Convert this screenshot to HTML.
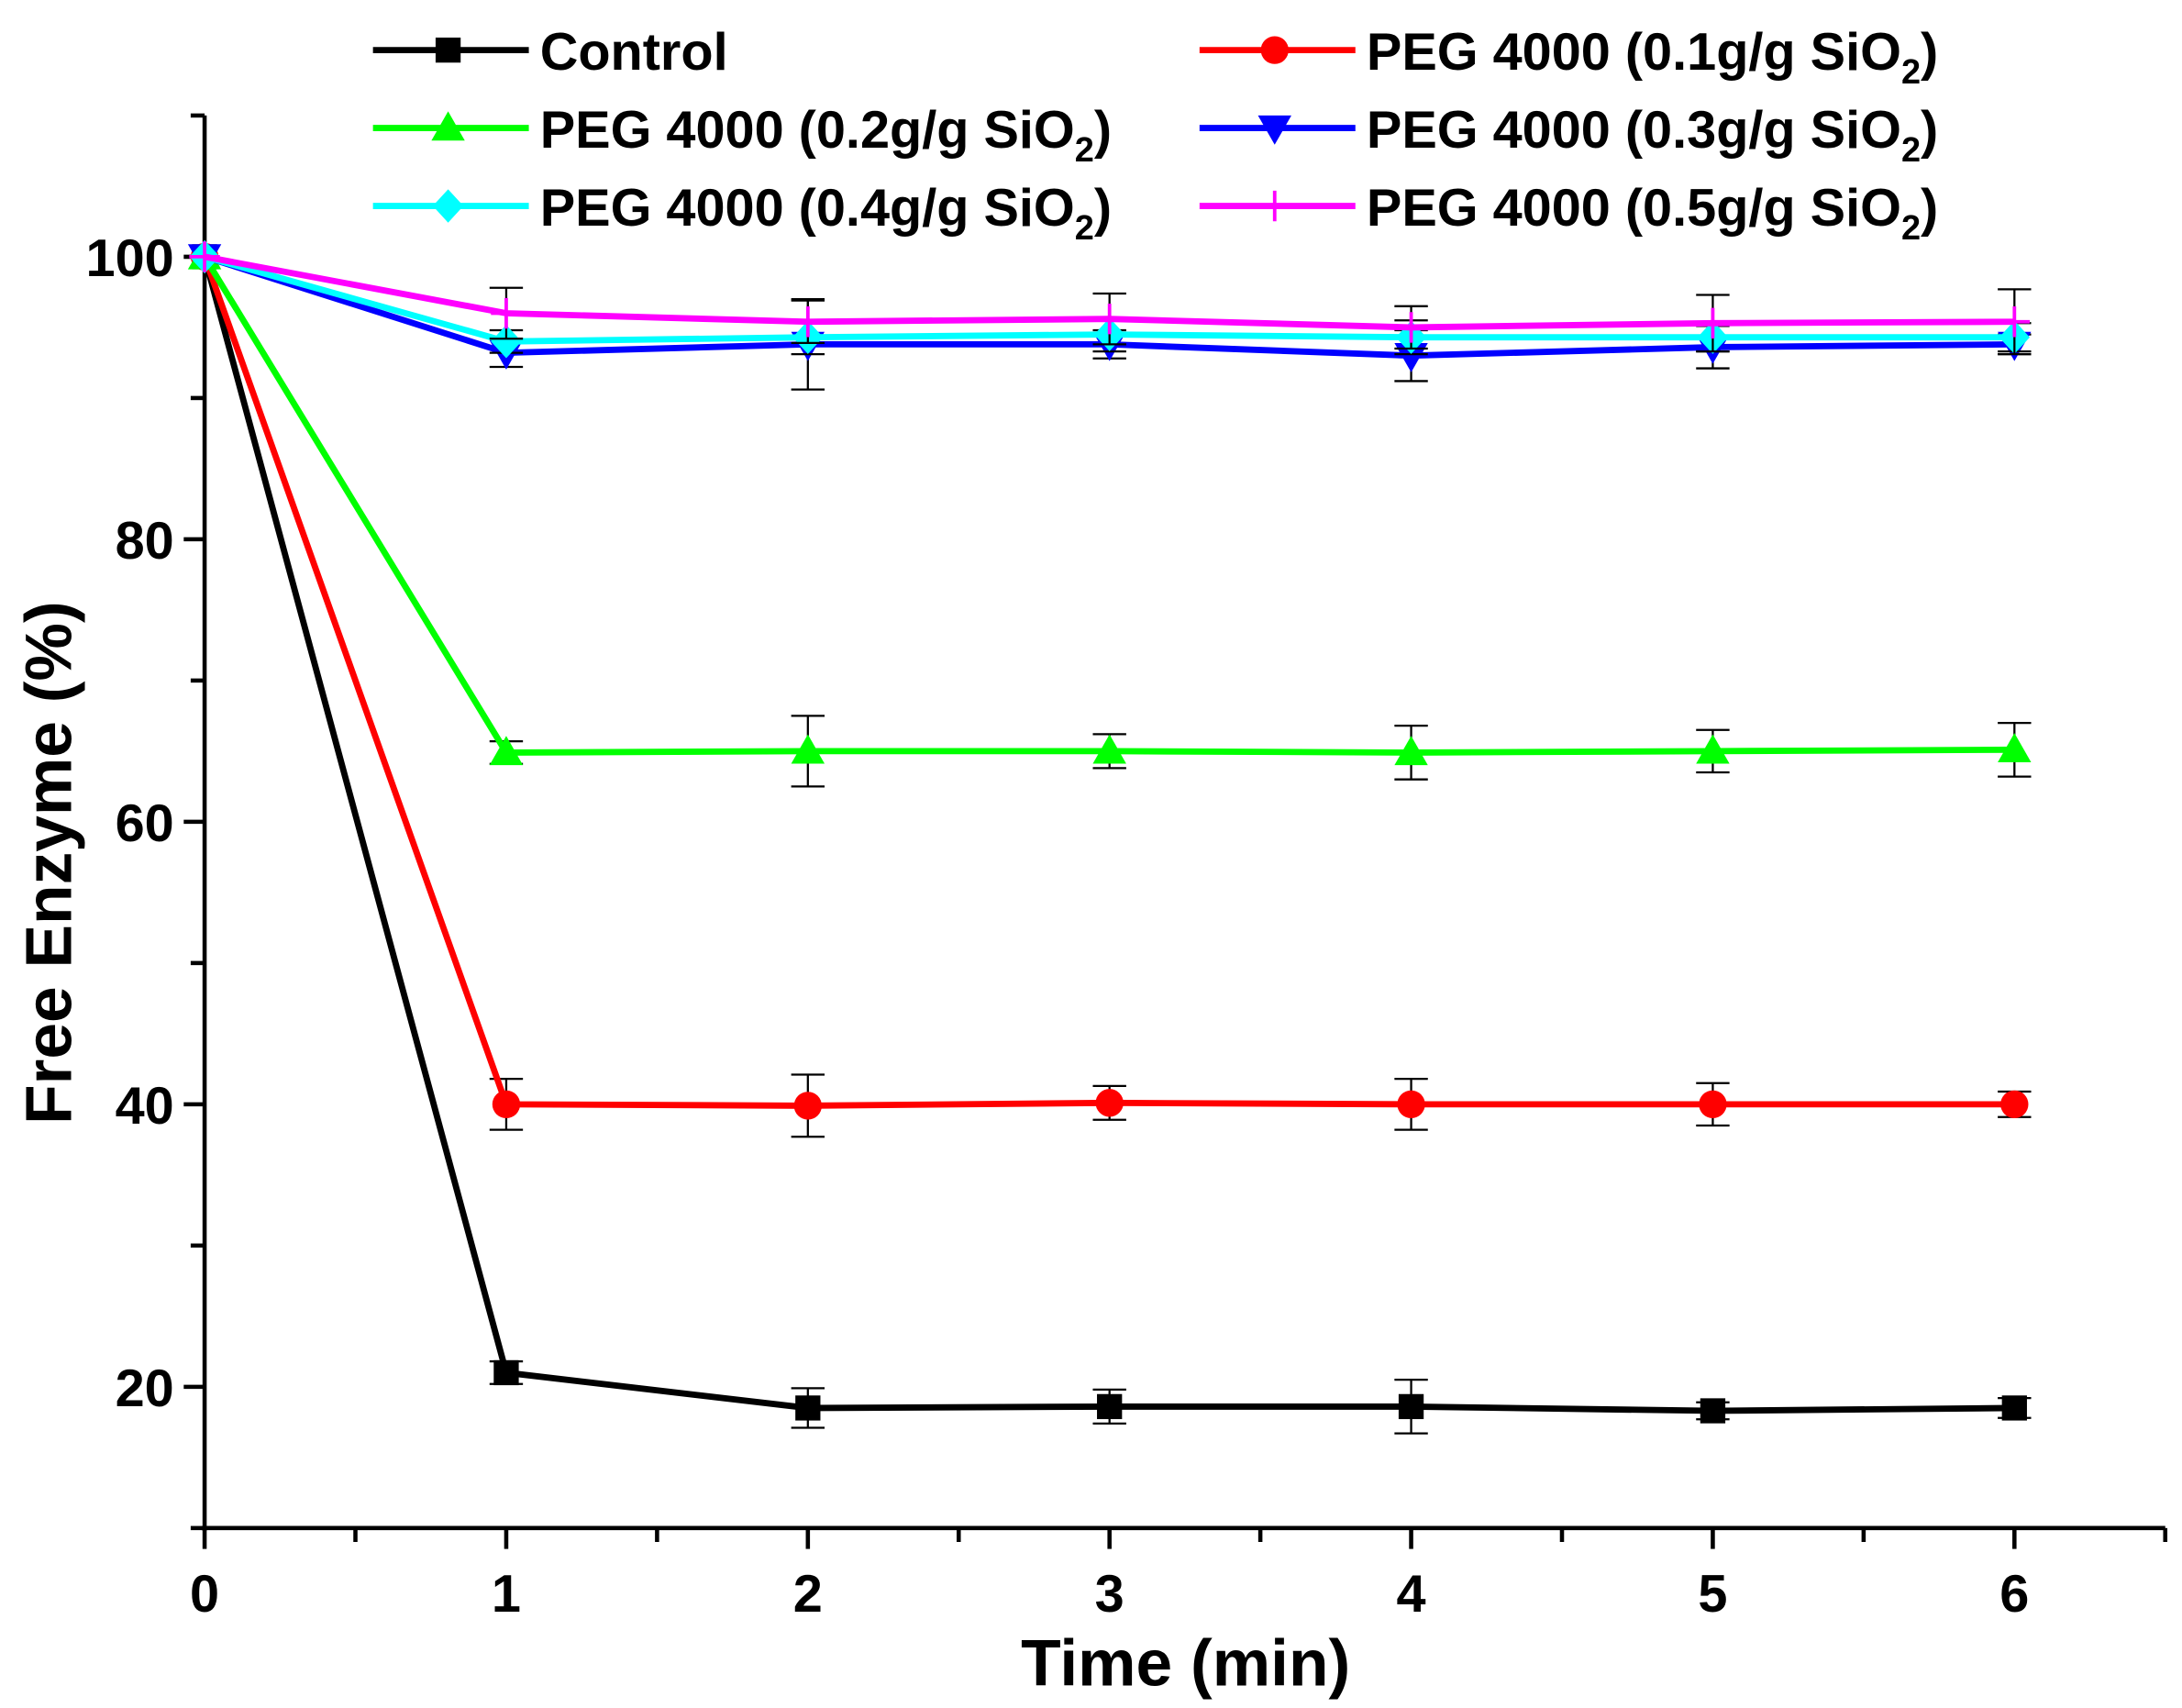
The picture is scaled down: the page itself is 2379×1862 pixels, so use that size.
<!DOCTYPE html>
<html><head><meta charset="utf-8"><style>
html,body{margin:0;padding:0;background:#fff}
svg{display:block}
text{font-family:"Liberation Sans",Arial,sans-serif;font-weight:bold;fill:#000}
</style></head><body>
<svg id="chart" width="2379" height="1862" viewBox="0 0 1568 1227.3" xmlns="http://www.w3.org/2000/svg">
<g id="axes"></g>
<g id="series"></g>
<g id="legend"></g>
</svg>
<script>
const times = [0,1,2,3,4,5,6];
const controlVals = [100,21,18.5,18.6,18.6,18.3,18.5];
const controlErr  = [0,0.8,1.4,1.2,1.9,0.6,0.7];
const peg01Vals = [100,40,39.9,40.1,40,40,40];
const peg01Err  = [0,1.8,2.2,1.2,1.8,1.5,0.9];
const peg02Vals = [100,64.9,65,65,64.9,65,65.1];
const peg02Err  = [0,0.8,2.5,1.2,1.9,1.5,1.9];
const peg03Vals = [100,93.2,93.8,93.8,93,93.6,93.8];
const peg03Err  = [0,1,3.2,1,1.8,1.5,0.7];
const peg04Vals = [100,94,94.3,94.5,94.3,94.3,94.3];
const peg04Err  = [0,0.8,1.2,1.2,1.2,1,1];
const peg05Vals = [100,96,95.4,95.6,95,95.3,95.4];
const peg05Err  = [0,1.8,1.5,1.8,1.5,2,2.3];
const xTicks = [0,1,2,3,4,5,6];
const yTicks = [20,40,60,80,100];
const seriesNames = ["Control","PEG 4000 (0.1g/g SiO","PEG 4000 (0.2g/g SiO","PEG 4000 (0.3g/g SiO","PEG 4000 (0.4g/g SiO","PEG 4000 (0.5g/g SiO"];

const NS="http://www.w3.org/2000/svg";
const X0=147, X1=1556, Y0=1098, Y1=83;
const xmin=0,xmax=6.5,ymin=10,ymax=110;
const xs=v=>X0+(v-xmin)/(xmax-xmin)*(X1-X0);
const ys=v=>Y0-(v-ymin)/(ymax-ymin)*(Y0-Y1);
function mk(tag,attrs,parent){const e=document.createElementNS(NS,tag);for(const k in attrs)e.setAttribute(k,attrs[k]);parent.appendChild(e);return e;}
const axes=document.getElementById('axes'), series=document.getElementById('series'), legend=document.getElementById('legend');

let e=mk('line',{x1:X0,y1:Y1,x2:X0,y2:Y0+2,stroke:'#000','stroke-width':3},axes);


e=mk('line',{x1:X0-2,y1:Y0,x2:X1,y2:Y0,stroke:'#000','stroke-width':3},axes);


for(let v=0;v<=6.5;v+=0.5){
  const maj=Number.isInteger(v);
  mk('line',{x1:xs(v),y1:Y0,x2:xs(v),y2:Y0+(maj?15:10),stroke:'#000','stroke-width':3},axes);
}
xTicks.forEach(v=>{const t=mk('text',{x:xs(v),y:Y0+60,'text-anchor':'middle','font-size':38},axes);t.textContent=v;

});
for(let v=10;v<=110;v+=10){
  const maj=v%20===0;
  mk('line',{x1:X0-(maj?15:10),y1:ys(v),x2:X0,y2:ys(v),stroke:'#000','stroke-width':3},axes);
}
yTicks.forEach(v=>{const t=mk('text',{x:X0-22,y:ys(v)+14,'text-anchor':'end','font-size':38},axes);t.textContent=v;

});
let t=mk('text',{x:852,y:1211,'text-anchor':'middle','font-size':47},axes);t.textContent='Time (min)';


t=mk('text',{x:0,y:0,'text-anchor':'middle','font-size':47,transform:'translate(51,620) rotate(-90)'},axes);t.textContent='Free Enzyme (%)';



function marker(kind,x,y,color,parent){
  if(kind==='square') return mk('rect',{x:x-9,y:y-9,width:18,height:18,fill:color},parent);
  if(kind==='circle') return mk('circle',{cx:x,cy:y,r:10,fill:color},parent);
  if(kind==='up') return mk('polygon',{points:`${x},${y-12} ${x-12},${y+9} ${x+12},${y+9}`,fill:color},parent);
  if(kind==='down') return mk('polygon',{points:`${x},${y+12} ${x-12},${y-9} ${x+12},${y-9}`,fill:color},parent);
  if(kind==='diamond') return mk('polygon',{points:`${x},${y-12} ${x+11},${y} ${x},${y+12} ${x-11},${y}`,fill:color},parent);
  return mk('path',{d:`M${x-11},${y}H${x+11}M${x},${y-11}V${y+11}`,stroke:color,'stroke-width':2.5,fill:'none'},parent);
}
const allSeries=[
 [controlVals,controlErr,'#000','square','series-control'],
 [peg01Vals,peg01Err,'#ff0000','circle','series-peg-0.1'],
 [peg02Vals,peg02Err,'#00ff00','up','series-peg-0.2'],
 [peg03Vals,peg03Err,'#0000ff','down','series-peg-0.3'],
 [peg04Vals,peg04Err,'#00ffff','diamond','series-peg-0.4'],
 [peg05Vals,peg05Err,'#ff00ff','plus','series-peg-0.5'],
];
allSeries.forEach(([vals,errs,col,kind,name])=>{
  const g=mk('g',{},series);
  
  
  times.forEach((tm,i)=>{ if(errs[i]>0){
    const x=xs(tm),a=ys(vals[i]+errs[i]),b=ys(vals[i]-errs[i]);
    mk('path',{d:`M${x},${a}V${b}M${x-12},${a}H${x+12}M${x-12},${b}H${x+12}`,stroke:'#000','stroke-width':1.5,fill:'none'},g);
  }});
  const l=mk('polyline',{points:times.map((tm,i)=>xs(tm)+','+ys(vals[i])).join(' '),stroke:col,'stroke-width':4.5,fill:'none'},g);
  
  
  times.forEach((tm,i)=>{const m=marker(kind,xs(tm),ys(vals[i]),col,g);
    
    });
});
const legPos=[[268,36],[862,36],[268,92],[862,92],[268,148],[862,148]];
allSeries.forEach(([vals,errs,col,kind,name],i)=>{
  const [lx,ly]=legPos[i];
  const g=mk('g',{},legend);
  
  
  mk('line',{x1:lx,y1:ly,x2:lx+112,y2:ly,stroke:col,'stroke-width':4.5},g);
  marker(kind,lx+54,ly,col,g);
  const tx=mk('text',{x:lx+120,y:ly+14,'font-size':38},g);
  tx.textContent=seriesNames[i];
  if(i>0){
    const s=mk('tspan',{'font-size':25,dy:10},tx);s.textContent='2';
    const c=mk('tspan',{dy:-10},tx);c.textContent=')';
  }
});
</script>
</body></html>
